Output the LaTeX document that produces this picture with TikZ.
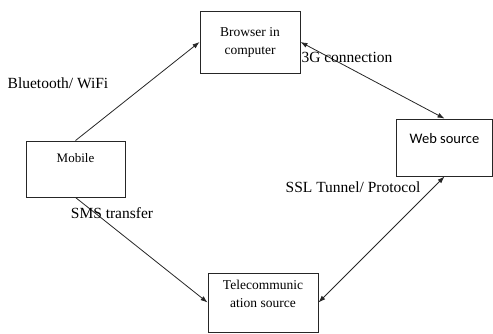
\documentclass[tikz,border=0pt]{standalone}
\usepackage{fontspec}
\setmainfont{Liberation Serif}
\newfontfamily\calibrifont{Carlito}
\usetikzlibrary{arrows.meta}
\begin{document}
\begin{tikzpicture}[x=1pt,y=-1pt,>={Latex[length=7pt,width=5pt]},draw=black!85,
	box/.style={rectangle, draw, line width=0.9pt, inner sep=0pt, align=center},
	link/.style={line width=0.8pt},
	tag/.style={font=\fontsize{15.5}{17}\selectfont}]
	\useasboundingbox (0,0) rectangle (493,333);
	\node (B) at (250, 42)	[box, minimum width=100pt, minimum height=62pt, font=\fontsize{13.5}{18}\selectfont]	{Browser in\\computer};
	\node (M) at (75.5,169)	[box, minimum width=99pt, minimum height=56pt, font=\fontsize{13}{22}\selectfont]	{Mobile\\\mbox{}};
	\node (W) at (444.5,147.5)	[box, minimum width=96pt, minimum height=57pt, font=\calibrifont\fontsize{14.5}{19}\selectfont]	{Web source\\\mbox{}};
	\node (T) at (263,302.5)	[box, minimum width=110pt, minimum height=59pt, font=\fontsize{13.5}{18}\selectfont]	{Telecommunic\\ation source\\\mbox{}};
	\draw[link,->] (M.north) -- (B.west);
	\draw[link,->] (M.south) -- (T.west);
	\draw[link,<->] (B.east) -- (W.north);
	\draw[link,<->] (T.east) -- (W.south);
	\node (bt) at (58,83)	[tag]	{Bluetooth/ WiFi};
	\node (g3) at (298,57)	[tag, anchor=west]	{3G connection};
	\node (ssl) at (353,187)	[tag]	{SSL Tunnel/ Protocol};
	\node (sms) at (112,213)	[tag]	{SMS transfer};
\end{tikzpicture}
\end{document}
